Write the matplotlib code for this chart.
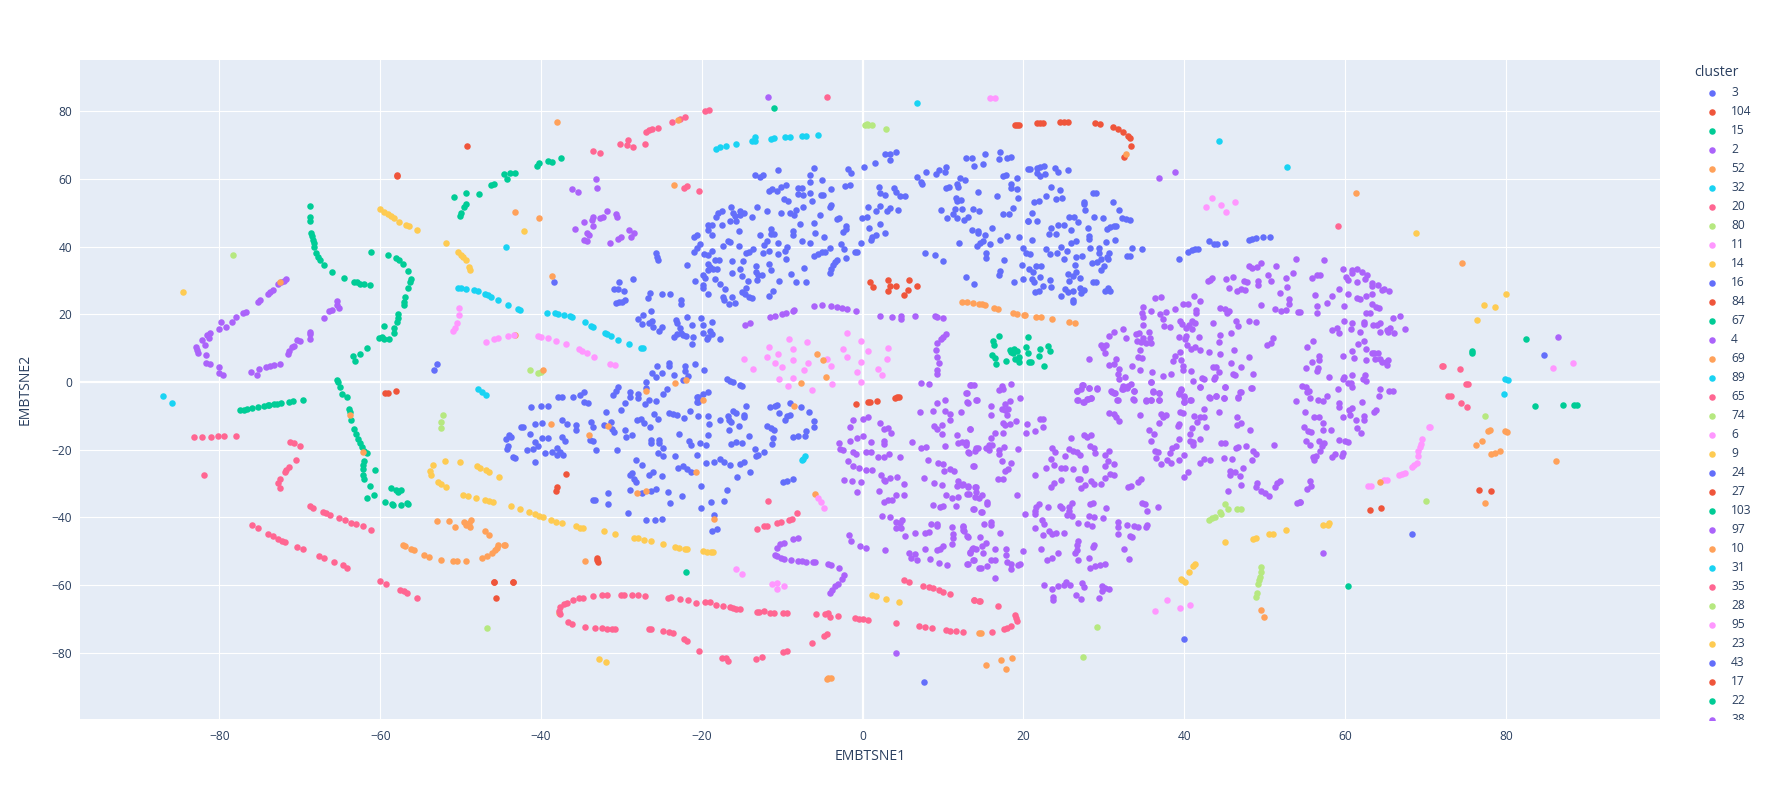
import matplotlib
matplotlib.use("Agg")
import matplotlib.pyplot as plt

plt.rcParams['font.family'] = ['Open Sans', 'DejaVu Sans']

# cluster points as (EMBTSNE1, EMBTSNE2)
c3 = [(-10.5,62.5),(-13.4,61.2),(-12.8,60.5),(-12.4,61.3),(-6.1,63.2),(-6.5,61.2),(-6.6,59.2),(-5.1,59.6),(-3.9,57.1),(-11.7,56.5),(-11.3,57.1),(-10.6,56.3),(-10.1,57.7),(-9.6,58.2),(-8,57.2),(-7.5,57.2),(-8,55.6),(-7.4,55.2),(-6.5,55.7),(-5.2,55.3),(-4.9,55.3),(-9.8,54),(-9.3,53.4),(-6.3,53.4),(-4.1,51.8),(-3.9,52.2),(-16.4,51.8),(-13.1,51.7),(-11.9,50.5),(-10.2,50),(-9.1,50),(-8.5,49.3),(-8.3,50.8),(-7.4,51.8),(-5.3,49.4),(-17.5,50.6),(-18,49.8),(-18.2,48.9),(-16.1,50),(-15.3,50.5),(-14.8,49.9),(-15.9,49),(-15.3,49.4),(-13.8,48.9),(-16.5,47.5),(-15.7,47.6),(-17.5,46.4),(-19.3,46.3),(-18.7,46.5),(-19.2,44.9),(-18.8,43.4),(-15.4,44.6),(-20.6,43.5),(-21,42.7),(-12.8,43.3),(-11.4,45.3),(-11.4,43.6),(-11,43.6),(-7.8,46.8),(-6.1,47.1),(-3.2,48.1),(-3,48.4),(-2.1,46.1),(-2.1,45.2),(-2.4,44.4),(-8.7,44.7),(-8.7,43.3),(-5.9,44.1),(-4.8,42.9),(-7.5,41.7),(-6.6,41.2),(-2.7,40.9),(-2.3,39.4),(-.2,41),(-1,38.3),(-.7,38.4),(-2.1,36.6),(-4.1,39.5),(-4.7,38.5),(-5.1,38.3),(-5.5,37.8),(-6,37.2),(-3.2,36),(-3.4,35.6),(-3.7,34.6),(-3.9,33.3),(-4.1,32.1),(-7.3,33.8),(-16.8,41.8),(-16.5,41.3),(-11.9,41.8),(-12.3,40.5),(-10.5,41),(-17.4,40.2),(-15.4,40.2),(-20.2,40.7),(-20.6,39.5),(-21,38.5),(-13.6,39.3),(-14.1,38.5),(-14.5,38),(-12.4,38),(-11.6,38.7),(-9.4,40),(-9.7,38.8),(-10.5,37.7),(-9.5,36.2),(-19.7,37.8),(-19.3,37.5),(-18.7,38.6),(-18.4,36),(-17.9,36.1),(-16.3,35.7),(-14.9,35.7),(-11.6,34.9),(-13.3,34.4),(-21.8,34.5),(-19.2,35),(-19,34),(-18.6,33.5),(-18.1,33.4),(-19.2,33.1),(-15.3,33.5),(-11.4,33.1),(-16.3,32.3),(-13.3,32.4),(-13,31.6),(-12.5,31.5),(-15,31.3),(-8.9,31.9),(-19.9,31.6),(-19.6,30.6),(-18.4,30.4),(-20.8,29.9),(-14.3,29.9),(-13.2,30.2),(-10.4,29.9),(-8.3,29.4),(-7,29.5),(-17.8,29),(-19.9,28.7),(-19.9,27.7),(-17.1,27.6),(-14.5,27.9),(-19.2,26),(-15,26.6),(-14.6,26),(-14.2,25.2),(-13.8,24.9),(-11.2,26.9),(-11.6,25.5),(-17.4,25.2),(-17.2,24.2),(-16.3,25),(-16.6,23),(-15.9,23.4),
      (4.1,68),(3.4,67.4),(2.8,67.3),(3.4,65.6),(1.5,64.8),(.2,63.5),(-1.8,62.9),(-1.5,61.7),(-2.2,58),(-1.6,58.2),(2,57.7),(3.9,57.2),(4.2,56.2),(4.7,55.1),(5.3,55.1),(2.2,55.8),(2.8,55.2),(.7,51.8),(2.2,52),(1.7,50.4),(3.4,51.4),(3,50.5),(4.4,50.8),(-.1,48.5),(.5,48.9),(.8,45.5),(2.1,46.8),(2.8,44),(1.7,43.4),(1.1,42.8),(1,42),(6.7,60.6),(7.9,62.1),(9.1,61.4),(9.5,62.7),(10.4,63.4),(10.3,62.1),(7.3,59.2),(7.4,58.5),(12.9,66.1),(13.6,66.1),(13.8,63.9),(15,64.5),(15.2,67.4),(17.1,67.9),(17,65.9),(17.9,66.1),(18.5,66.5),(20.6,63),(12.1,60.2),(12.7,59.8),(11.7,58.4),(11.9,57.7),(10.4,57.2),(10.7,57.6),(14.4,56),(16.7,55.1),(17.4,60.9),(17.8,61.2),(19.2,60.2),(18.4,58.5),(18.5,57.2),(19.2,57),(19.3,54.5),(11.6,54.4),(12.2,53.8),(11.7,53.6),(9.8,50.8),(11.5,51),(12.3,51),(13.7,51.1),(14.5,50.4),(11.2,49.5),(10.5,48.6),(11.7,48.5),(12.6,47.8),(13.1,48.9),(17.5,49.5),(18.2,49.6),(18.7,51.4),(20.5,47.5),(16.1,45.6),(13.6,44.8),(14.4,44.7),(14.4,44),(15.2,43.4),(15,41.8),(14.6,41.2),(15.8,40.8),(14.2,40.3),(12,41),(18,43),(17.1,41.9),(19.4,42.7),(19.9,39.7),(20.3,38.1),(7.7,38.2),(9,37.6),(10,35.8),(15.4,38),(15.3,36.7),(17.6,35.9),(19.8,34.7),(17.1,32.9),(16.9,31.5),(12.9,31),(13.8,29),(18.8,29.4),(20,30.5),
      (20.8,63),(21.7,63.2),(22.1,63.6),(22.5,63.8),(21.7,61.7),(22,61),(22.7,61.5),(23.9,63.3),(24.3,62),(25.5,62.5),(23.4,57.7),(24.6,56.8),(22.8,55),(24,54.2),(24.8,54.4),(21.3,53.2),(21.9,53.5),(28.7,55.9),(29,55.9),(27.5,53.1),(27.5,52.5),(27.6,50.7),(31.1,53.3),(31.9,50.9),(32.3,48.6),(32.8,48.2),(33.3,47.8),(21,50),(20.6,47.6),(21.7,47.6),(25.7,48.9),(26.3,48.9),(26.8,47.2),(28.8,48.7),(29.9,48.5),(24.3,46.4),(25,46.5),(23.4,45.4),(23.2,43.7),(24.1,43.7),(25.9,45),(28,45.4),(28.2,43),(28.1,42.2),(30.4,45.1),(30.8,45.7),(31.2,46.2),(31.5,46.2),(21,41.9),(30.3,41.3),(31.4,42),(25.9,41.2),(26.5,41.6),(24.7,40),(22.8,39.2),(23.3,37.8),(24.2,38.2),(25.4,38.6),(20.8,37.7),(28.3,39.5),(29.4,39.5),(29.4,38.1),(30.6,38.2),(30.4,37),(30.5,36.4),(33.5,39.5),(34.7,39.2),(32.9,37.3),(33.2,37.3),(27.3,37.3),(26.5,36.8),(25,36.2),(28.5,35.3),(29.2,35.5),(29.7,36.2),(26.4,34.6),(30,34.2),(29.7,33),(20.7,33.4),(21.5,34.3),(22.2,34.2),(21.2,32.4),(25.5,31.8),(26.2,31.4),(26.5,32.6),(21.1,30.5),(22.1,31),(27,30.8),(23.3,30),(25.7,29.7),(28.7,29.6),(29,29.6),(21.3,29.4),(23.4,28),(22.4,28.3),(21.4,26.7),(21.9,27),(25.2,27.5),(25.5,26.5),(26.1,26.8),(27,27.7),(27.5,27.1),(27.2,26.4),(30.1,27),(30.5,27.7),(30.8,26.9),(24.7,25.3),(26.1,24.2),(26.2,23.5)]
c104 = [(18.9,76),(19.2,76),(19.5,76),(21.7,76.4),(22.1,76.5),(22.4,76.5),(24.6,76.8),(25,76.8),(25.5,76.8),(28.9,76.5),(29.5,76.3),(31.1,75.4),(31.7,74.8),(32.4,73.9),(33,72.8),(33.3,72),(33.4,69.7),(32.5,66.4)]
c15 = [(-68.8,52),(-68.8,48.9),(-68.8,47.7),(-68.6,44),(-68.5,43),(-68.4,42),(-68.3,41),(-68.2,40),(-68,38.2),(-67.8,37),(-67.5,35.9),(-67,34.5),(-66,32.5),(-64.5,30.6),(-63.3,29.6),(-62.9,29.4),(-62.5,29),(-62,28.9),(-61.3,28.6),(-61.1,38.3),(-59,37.4),(-58.1,36.6),(-57.7,35.9),(-57.2,35),(-56.5,32.7),(-56.2,30.5),(-56.3,29.4),(-56.5,27.7),(-56.9,25),(-57,23.7),(-57,22.8),(-57.8,20.1),(-57.8,18.8),(-57.9,17.6),(-58.3,15.9),(-58.3,14.6),(-58.9,12.7),(-59.5,16.4),(-59.8,13.4),(-60.1,12.9),(-59.6,12.8),(-61.6,9.9),(-62.5,8.4),(-63.4,7.8),(-63.2,6.3),(-50.8,54.7),(-49.4,55.8),(-47.7,55.6),(-50.1,49),(-49.9,50),(-49.6,51.8),(-49.3,52.7),(-46.2,58.2),(-45.8,58.6),(-44.6,61.5),(-44.3,60),(-43.9,61.8),(-43.3,61.9),(-40.5,63.8),(-40.3,64.7),(-39.2,65.4),(-38.6,65.1),(-37.5,66.1)]
c2 = [(57.4,36.1),(59.8,33.5),(60.8,33.1),(60.9,32.3),(61.5,33.3),(62.1,32.5),(62.7,31.7),(60.1,31.1),(60.4,30),(61.5,29.5),(62.5,30.3),(63.3,29.2),(63.4,28.4),(64.1,28.7),(64.8,27.6),(64.6,27.2),(65.5,26.9),(55.9,30.8),(56.5,31.6),(56.9,31.5),(59.2,27.4),(58.4,25.5),(60.4,25.9),(61.5,24.9),(61.8,24.5),(62.6,25.5),(63.3,26),(56.2,25.6),(56.5,22.5),(57.8,23.3),(59.9,22.4),(63.4,23),(63.8,22.3),(64.2,22),(62.6,20.4),(63.1,20.5),(54.4,20.8),(56.5,20.3),(66,19),(66.8,19.5),(59.9,18),(60.8,17.4),(62.4,17.8),(62.3,17.2),(63.5,16.8),(64,16.9),(64.3,17.4),(67.4,15.8),(58.4,15.3),(59,15.9),(59.2,14.6),(60.7,15.8),(61.8,14.9),(64.3,14.9),(65.2,15.5),(65.6,16),(65.3,14.9),(66.1,14.6),(56,12.2),(55.3,10.3),(61.6,11.2),(62.4,12.1),(60.8,9.3),(62.6,9.7),(63.3,8.6),(63.6,8.6),(64.1,8.7),(56.8,7.7),(56.8,6.5),(59.8,7.7),(61.1,7.1),(62.6,6.5),(63.7,6.7),(64.3,6.7),(64.6,6),(65.3,6.6),(65.1,6),(65.2,4.9),(55.9,5.8),(55.2,4.2),(56.6,4.2),(56.5,3.2),(58,1.6),(59.9,1.6),(59.8,.9),(60.9,2),(62.5,2.2),(62.2,1),(62.6,.2),(60.4,-.2),(60.7,-.4),(60.9,-1.6),(59.1,-2.1),(64.3,-2.1),(65.5,-2.7),(65.9,-2.6),(64.2,-4.1),(54.7,-1.1),(55.1,-1.4),(55.3,-2.9),(55.5,-2.7),(55.6,-4.7),(56.6,-5.3),(57.3,-5.5),(57.8,-4.1),(59.3,-6.1),(59.2,-7.3),(62.1,-5.8),(60.9,-7.6),(60.5,-8.3),(63.8,-8.2),(63.6,-9),(55,-8.8),(56.1,-10.3),(56.8,-10.3),(59.8,-10.4),(60.6,-9.8),(62.3,-10),(61.3,-11.1),(62.4,-11.2),(57.3,-12.1),(54.9,-13.2),(55.4,-14.4),(55.7,-14.9),(57.3,-14.2),(58.2,-14.2),(61.5,-13.7),(62,-15),(55.1,-17.4),(55.6,-18.5),(56.8,-17.5),(57.4,-18),(57.1,-18.8),(59.3,-17.2),(60,-17.5),(60.4,-17.8),(56.9,-20.5),(56,-22.1),(56.4,-22),(56.1,-23),(58.4,-22.1),(58.8,-21.4),(59.7,-20.9),(59.6,-21.8),(55.6,-29.2),(55.8,-30.7),(55.3,-31.7),(54.4,-35.4),(57.2,-50.6),
      (39.5,-8.8),(39.8,-9.3),(37.1,-9.6),(37.7,-9.9),(37.4,-10.3),(34.5,-9.8),(30.6,-9.3),(31.2,-9.5),(31.5,-10.3),(31.9,-11.5),(36.9,-12.2),(35.6,-14.2),(36.2,-15.4),(35.8,-17.3),(39.3,-12.3),(39.2,-13),(41,-13.7),(41.6,-11.8),(41.2,-10),(41.9,-10.3),(42.5,-10.3),(42.7,-13.3),(44.3,-9),(42.4,-7.9),(46.6,-10.3),(47,-12),(46.6,-12.7),(48.2,-14.1),(40.7,-15.4),(39.3,-17),(40.7,-17.5),(41.1,-17.8),(41.1,-18.7),(42,-16.8),(39,-18.9),(38.5,-19.6),(38.2,-20.9),(36.4,-20.3),(36.7,-20.6),(36.5,-22.4),(37.1,-24.1),(37.9,-23.2),(38.3,-23.8),(39.3,-23.2),(40,-21.5),(41.9,-23.8),(42.4,-22.9),(43.2,-23.1),(45,-22.6),(45.9,-22.8),(44.6,-17.9),(45.1,-18),(46.4,-19.4),(46.7,-19.1),(47.7,-18.8),(48.5,-20.3),(48.9,-21.2),(48.4,-23.2),(51.1,-18.6),(47.3,-25.4),(45.7,-26.2),(46.3,-26.6),(45.7,-27.6),(46.9,-27.9),(40.5,-26.7),(40,-28.2),(47,-30.4),(45.4,-32.3),(49,-29.9),(48.9,-31.1),(49.6,-32.2),(50.1,-32.9),(50.5,-33.7),(51.3,-30.9),(51.5,-29.8),(51.9,-29.2),(54,-35.8),(54.4,-35.5),
      (36.8,60.4),(38.9,62.1),(48,34.4),(48.4,33.7),(49,34),(49.5,35.2),(51.4,34.4),(53.9,36.4),(42.9,29.9),(43.2,30),(43.5,30.8),(45.2,30.5),(46,30.9),(47.4,29.7),(47.8,29.4),(49.2,29.9),(49.2,28.8),(50.8,29.8),(50.4,31.7),(52.7,30.6),(53.5,32.3),(52.8,28.2),(45.6,27.8),(46.6,26.8),(47.1,27.5),(47.5,27.1),(51.9,26.2),(49.6,22.7),(53,24.5),(53,23),(51.3,21.6),(52,21),(52.6,21.3),(54.2,20.8),(41.2,25.5),(36.4,24.9),(37.1,25.1),(42,23.9),(39.8,23),(40.5,23),(41.5,21.3),(41.4,20.3),(34.9,22.1),(35.8,20.9),(38.8,21.7),(37.7,20.8),(37,20.1),(34.7,20.3),(34.9,19.2),(37.3,18.6),(44.4,22),(45.1,21.6),(45.6,21.1),(45.3,20.3),(34.9,16.7),(37.5,16.5),(38.2,16.2),(39.5,18.1),(39.7,17),(40.2,16),(40.6,16.8),(40.9,18),(41.3,17.5),(41,15.8),(43.6,17.4),(46.4,17.9),(46.7,16.4),(48,18),(48.9,17.7),(45.8,14.4),(44.4,13.9),(41.8,13.4),(40.2,13.7),(39.3,13.3),(40.1,12.6),(35.6,14.7),(34.4,14.4),(34,14.2),(32.8,12.9),(32.4,15.6),(31.2,14.8),(30.6,13.5),(34.9,13),(35.7,12.9),(34.1,12.2),(34.6,11.9),(35.3,11.6),(35.9,11.5),(44.3,11.9),(29.6,11),(30.3,10.8),(29.9,10),(30.1,8.6),(34.5,9.5),(40.3,10.8),(40.8,9.7),(41.3,10.2),(41.9,9.5),(43.1,8.9),(44.5,8.4),(46.2,9.5),(50.3,10.8),(50.8,11.4),(51,13.1),(28.2,6.7),(31.5,6.7),(30.6,4.9),(31.2,5.3),(34.2,7.5),(34.7,7.1),(38.8,7.8),(39.5,8.8),(38.6,6.1),(39.6,6.4),(45.8,5.6),(48,7.5),(47.1,4.5),(31.9,3.7),(33.5,4.8),(34.5,3.4),(36,2.8),(31.7,2.4),(31.9,1),(32.6,1.5),(39.8,4.6),(39.9,3.5),(40.8,3.2),(37.3,1.8),(38.4,2.5),(43.6,4.5),(44,4.3),(44.3,3),(46,2.3),(46.3,2),(48.6,2.4),(43.8,1.6),(43.7,.8),(41.1,.4),(42.2,1.3),(42.4,1),(35.9,0),(33.4,-.5),(32.4,-1.1),(32.9,-1.9),(27.4,-.8),(28.1,-1.7),(29.2,-1.9),(26.6,-2.7),(27.2,-2.1),(30.9,-2.8),(31.2,-3.3),(32.2,-2.1),(33.7,-2.7),(36.1,-2.8),(36.9,-3.3),(39.6,-2),(39.3,-3.3),(40,-4.3),(41.9,-1.4),(45.1,-1.4),(48.3,-1.7),(46.9,-3),(46.7,-4.5),(43.1,-4.5),(44,-4.1),(45,-4.7),(40.8,-5.3),(40,-5.8),(36.8,-5.2),(35.8,-5.2),(35.2,-5.4),(33.6,-5),(31.6,-5.3),(26.7,-5.2),(27.4,-5.8),(27.9,-5),(28.4,-4.6),(53.9,-5.7)]
c52 = [(12.4,23.7),(13,23.6),(13.7,23.4),(14.5,23),(14.8,22.9),(15.2,22.6),(16.3,21.9),(16.8,21.6),(18.7,20.3),(19.2,20.1),(20.1,19.8),(20.2,19.8),(21.5,19.3),(22.2,19.1),(23.6,18.6),(25.6,17.8),(26.4,17.3)]
c32 = [(-18.2,68.9),(-17.7,69.5),(-17,69.7),(-15.7,70.3),(-13.8,71.1),(-13.4,72.3),(-13.4,71.2),(-11.4,71.9),(-11,72),(-9.7,72.3),(-9.1,72.4),(-7.5,72.7),(-7,72.8),(-5.5,73)]
c20 = [(-33.5,68.2),(-32.7,67.6),(-30.2,70.3),(-29.2,71.6),(-29.3,70),(-28.6,69.3),(-27.1,70.2),(-26.9,74),(-26.6,74.4),(-26.2,74.9),(-25.4,75),(-23.7,76.9),(-22.7,77.7),(-22.1,78.2),(-19.6,80.1),(-19.1,80.4),(-22.2,57.2),(-21.9,57.9),(-20.3,56.5),(-4.4,84.3)]
c80 = [(.3,76),(.7,75.8),(1.1,75.8),(.5,76.2),(2.9,74.8),(-78.3,37.6),(-41.4,3.6),(-40.4,2.6),(-40,2.8)]
c11 = [(-2,14.6),(-.2,12.1),(-9.2,12.8),(-6.9,11.7),(-11.7,10.4),(-8.7,9.8),(-2.5,9.6),(.7,9.2),(3.2,10),(-10.5,8.4),(-11.9,7.3),(-14.7,6.7),(-8.7,6.5),(-10.9,5.6),(-6.8,5.7),(-4.4,6.8),(-1.9,7.3),(-.2,5.9),(3,6.7),(-3.9,4.8),(-10,4.3),(-7.3,3.5),(-13.7,3.8),(1.9,3.7),(2.4,2),(-.7,2.8),(-8.7,1.3),(-10.4,.8),(-9.3,-1.2),(-6.3,-2.3),(-3.8,-.7),(-.2,.1),(15.8,83.9),(16.5,84),(43.5,54.3),(42.7,51.7),(44.6,52.2),(46.3,53.1),(45.2,50.1)]
c14 = [(-84.6,26.7),(-60,51.1),(-59.5,50.1),(-59.1,49.6),(-58.7,49),(-58.3,48.4),(-57.7,47.4),(-56.8,46.4),(-56.4,46),(-55.4,44.9),(-51.8,41.2),(-42.1,44.7),(-50.3,38.3),(-50,37.5),(-49.7,36.8),(-49.3,36),(-49,34.1),(-48.8,33.1)]
c16 = [(-30.3,29.6),(-28.6,30.4),(-30.9,27.6),(-30.4,27.4),(-29.7,26.9),(-26.5,26.2),(-26.7,24.8),(-24.9,26),(-24,26.1),(-22.6,24.2),(-22.6,23),(-30.7,23.2),(-30.3,23.5),(-29.9,23.5),(-29.6,24.2),(-26.3,21.1),(-25.7,38),(-25.6,37),(-25.4,35.9),(-27.3,19.8),(-27.9,18.5),(-27.5,17),(-26.6,17.3),(-26.2,17.9),(-26.1,16.2),(-25.3,15.2),(-24.9,16.1),(-23.2,18.3),(-23.1,17.5),(-21.8,19.2),(-20.1,19),(-18.7,17.7),(-21.2,16.8),(-19.8,16.7),(-22.7,16),(-23.1,14.3),(-22.6,14.4),(-23.5,13.2),(-22,13.7),(-22.3,13.8),(-21.1,13.3),(-19.9,14.4),(-19,15.2),(-18.7,14.2),(-19.2,13.4),(-19.4,12.6),(-17.8,12.8),(-21.2,11.3),(-25.6,4.7),(-24.1,5.5),(-24.1,4.7),(-22.1,4.8),(-20.9,5.4),(-19.7,3.6),(-26.2,2.6),(-25.7,1.4),(-24.9,2.6),(-23.5,2),(-22.1,3.1),(-21.7,1.9),(-22.4,.7),(-27,-.1),(-27,-1.9),(-16.9,.8),(-16.5,.3),(-16.1,-.1),(-15.3,-.9),(-15,-1.2),(-30.4,-1.4),(-30.7,-2.6),(-31,-3.8),(-28.9,-3),(-29,-4.3),(-28,-3.5),(-28,-4.8),(-24.4,-2),(-24.8,-3.6),(-26.6,-5.3),(-25.7,-5.7),(-27.1,-6.6),(-29.6,-6.3),(-19.2,-3),(-19.8,-3.6),(-20.6,-4.3),(-20.6,-5.8),(-37.9,-4.3),(-37.4,-4.3),(-36,-4.3),(-35.1,-3.8),(-34.7,-3),(-34.7,-6),(-34.2,-6.2),
       (-41.2,-7.3),(-40,-7),(-39.2,-7.1),(-31.9,-9),(-30.1,-8.2),(-42.5,-13.2),(-42.2,-13.2),(-40.8,-12.5),(-39.9,-12.1),(-37.4,-11.2),(-36.8,-12.5),(-35.7,-12.7),(-35.7,-14.3),(-41.4,-15.4),(-39.9,-16.5),(-39.2,-16.6),(-37.4,-16.3),(-37,-17.3),(-40.7,-17.6),(-40.4,-18.9),(-44,-15.6),(-43.8,-16.3),(-44.4,-16.9),(-44.1,-18.9),(-44.3,-19.7),(-41.7,-20),(-41,-19.8),(-39.5,-20.9),(-38.6,-20.8),(-38,-19.6),(-38,-21.5),(-37.7,-20.6),(-37.3,-21.7),(-43.5,-22.2),(-43.3,-22.4),(-40.7,-23.7),(-33.8,-11.7),(-33.6,-13.2),(-32.2,-12.7),(-31.3,-11.9),(-31.2,-14),(-30.9,-14.9),(-29.6,-14.3),(-29.5,-16.4),(-28.7,-15.8),(-33.9,-17.1),(-33.5,-17.3),(-33.2,-20.2),(-30.5,-20.2),(-28.1,-11.2),(-27.6,-11),(-27.2,-12.2),(-26.5,-13.3),(-25.9,-9.4),(-25.5,-11),(-24.1,-9.2),(-23.6,-9.4),(-23.1,-9.8),(-22.2,-10.5),(-21.5,-8.5),(-20.5,-10.2),(-19.2,-10),(-19.1,-12.4),(-17.7,-11.2),(-16.8,-10),(-16.1,-8.6),(-15.8,-9.1),(-14.7,-9.8),(-14.7,-10.4),(-16.4,-11.7),(-16.6,-11.2),(-15.4,-13),(-16.6,-14.1),(-19.2,-15.8),(-14.2,-15.9),(-22.8,-15.3),(-20.5,-4.3),(-20.5,-5.8),(-14.5,-7),(-11.5,-7.3),(-10.9,-7),(-10.6,-6.8),(-9,-6.3),(-7.7,-7.4),(-6.7,-8.8),(-10.4,-9.3),(-9.1,-9.9),(-9.4,-10.2),(-9.7,-11.2),(-6,-11.5),(-6,-13.2),(-11.9,-13.1),(-11.4,-13.7),(-11,-14.2),(-7,-14.4),(-7.2,-15.9),(-8.7,-16.4),(-8.1,-16.1),(-11.2,-16.7),(-11.3,-18.3),(-16.4,-18.4),(-15.7,-17.8),(-15,-18),(-26.3,-17.1),(-25.3,-17.1),(-26.3,-18.1),(-25.3,-18.1),(-24.8,-19.5),(-24.8,-21.9),(-25.5,-21),(-23.4,-22),(-21.6,-17.5),(-21.4,-18.7),(-20.2,-18.1),(-19.5,-18.7),(-20.6,-21.5),(-13.4,-19.7),(-12.3,-20.7),(-13,-21.5),(-13.3,-21.9),(-19.5,-23.9),(-18.5,-23.6),(-17.8,-22.7),(-17.2,-23.6),(-16.5,-24.4),(-15.3,-24.1),(-14.8,-23.6),(-14,-26.5),(-15.6,-28.2),(-28.2,-23.1),(-27.4,-24.4),(-23,-25.3),(-22.3,-24.8),(-21.9,-25.7),(-21.4,-26.5),(-28.9,-27.4),(-28.7,-26.9),(-28.5,-28.6),(-28.2,-29.7),(-26.6,-27.4),(-26.1,-26.7),(-24.9,-27.8),(-29,-31.8),(-31.7,-32.8),(-33.5,-34.8),(-33.3,-34.8),(-31.7,-36.1),(-29.2,-38.6),(-27.5,-32.9),(-26.3,-32.2),(-25.7,-31.6),(-24.2,-32.5),(-24,-35.8),(-22.5,-33.8),(-20.1,-30.8),(-18.9,-35.6),(-20.1,-37.1),(-17.2,-35.2),(-16.9,-31.9),(-26.9,-40.7),(-25.8,-40.7),(-24.9,-40.5),(-18.5,-39.4),(-18.1,-43.4),(-18.8,-44.1),(-9.9,-29.7),(-9.4,-29.4),(-8.7,-28.8)]
c84 = [(.9,29.5),(1.3,28),(3.2,30.1),(3.4,28.5),(4.1,28.5),(3.1,26.9),(5.7,30.1),(5.6,27.3),(5.1,25.6),(6.8,28.5)]
c67 = [(16.2,12.2),(16.9,13.5),(16.3,10.8),(20.5,13.2),(20.3,10.4),(16.1,7.9),(16.5,7),(16.6,5.4),(17.8,6.1),(18.3,9.5),(18.5,9),(18.8,9.7),(19.2,9.3),(18.7,8.5),(19.5,7.5),(18.9,6.7),(19.5,5.8),(20.6,8.6),(20.7,5.9),(23,10.6),(23.3,9.1),(22,9.7),(21.9,7.6),(20.9,5.9),(22.6,4.6),(75.8,9.2),(75.8,8.7)]
c4 = [(26.6,-2.6),(27.3,-.8),(28.1,-1.7),(29.1,-2),(26.8,-5.4),(27.5,-5.9),(28,-5.1),(28.4,-4.7),(31,-2.9),(31.4,-3.4),(31.7,-5.4),(33.7,-5.2),(32.4,-2),(33,-1.3),(33.7,-2.8),(35.2,-5.6),(35.8,-5.4),(36.8,-5.4),(36.1,-2.9),(36.8,-3.4),(35.9,-.1),(39.3,-3.6),(39.6,-2.3),(40,-4.2),(40,-6),(40.7,-5.4),(41.9,-1.5),(43.2,-4.6),(44,-4.2),(45,-4.8),(45.1,-1.5),(47,-3),(46.7,-4.6),(48.4,-1.8),
      (20.4,-12.3),(22.1,-10.8),(22.4,-10.8),(22.4,-13.3),(21.4,-14.6),(20.3,-15),(23.5,-19.6),(23.9,-20.8),(23.4,-22.7),(25.2,-22),(25.6,-19.8),(26.2,-20.3),(26.6,-20.8),(27,-21.6),(25.9,-16.6),(27.5,-15.8),(27.9,-16.2),(28.4,-15.6),(28.3,-18.9),(28.8,-19.4),(28.9,-21.1),(30.1,-21.6),(30.6,-20.5),(30.5,-23.4),(30.1,-24.9),(31.2,-24.3),(23.8,-24.6),(22.8,-25.3),(24.7,-25.5),(25.2,-25.5),(26.1,-25.6),(27.7,-25.5),(27.6,-25.9),(21.4,-27.5),(24.7,-28.9),(23.8,-29.8),(23.4,-31.1),(26.8,-28.8),(27,-28.7),(28.4,-29.3),(28.8,-30.2),(29.6,-30.2),(30.1,-28.4),(27.7,-30.5),(27.2,-31.4),(30.8,-27.1),(31.3,-27.5),(33,-31.1),(33.4,-30.6),(34.3,-29.5),(34.6,-28.8),
      (21.9,-36),(21.6,-37),(21.4,-38),(21.4,-39),(20.2,-38.9),(23.1,-37),(24.5,-36.6),(24.8,-37.3),(26,-35.8),(25.7,-37),(25.6,-38.2),(25.4,-39.3),(26,-39.5),(28.3,-36),(28.6,-35.9),(30.3,-37.2),(28.2,-39.6),(28.8,-39.9),(29.9,-40.2),(26.8,-41.7),(27.9,-41.9),(28.5,-42.6),(22.3,-40.8),(22.6,-41.9),(21.4,-43.1),(22.4,-45.2),(23.2,-43.9),(23.6,-44.9),(24.1,-44.6),(25.1,-44.6),(31.7,-41.3),(31.8,-42.8),(32.9,-42.3),(33.7,-42.7),(34.3,-42.8),(35.2,-43),(35.4,-42.3),(31.8,-44.9),(33.2,-45.5),(33.5,-45.9),(34.8,-35.9),(35.1,-36),(35.4,-38),(36.7,-36.9),(26.8,-46.9),(26.7,-48.1),(26.6,-49.6),(26.4,-50.6),(28.8,-48.1),(28.6,-48.9),(22.2,-49.3),(24.3,-50.6),(23.6,-51.9),(22.9,-52.5),(26.8,-52.6),(28.1,-52),(32.5,-49.3),(33.1,-52.3),(28.3,-54.9),(28.9,-54.5),(29.5,-54.2),(30.1,-53.7),(22.6,-60.1),(23.5,-61.3),(24.3,-60.4),(25,-60.1),(25.3,-59.1),(25.8,-59.9),(27.3,-59.4),(27.5,-60.5),(29.8,-60.2),(30.2,-60.9),(30.6,-61.2),(29.8,-61.7),(26.5,-62.9),(27.2,-64.1),(23.7,-63.6),(23.7,-64.4),(29.4,-63.9),
      (13.4,-1),(13.8,-.8),(13,-3.4),(17.3,-1.3),(17.5,-2),(18.5,-.7),(17,-2.5),(19.6,-4.6),(13.1,-6.1),(14.2,-5.2),(15.9,-7),(18.3,-5.7),(17.7,-6.4),(17.3,-7.9),(17.7,-8.2),(18.1,-7.9),(16,-9.7),(18,-9.7),(17.5,-12),(17.7,-12.8),(18.3,-12.3),(19.1,-11.4),(13.4,-14),(16.5,-15.2),(16,-16.5),(17.5,-15.2),(12.3,-17.7),(12.8,-17.8),(12.8,-18.5),(13.2,-20.9),(14,-20.3),(14.3,-19.4),(15.4,-19.6),(15.7,-18.7),(16.1,-18.7),(15.7,-20),(16.9,-20.1),(17,-21.2),(17.6,-19.1),(19.3,-19.8),(17.3,-23.4),(18.4,-23.8),(13.8,-24.9),(18.1,-25.8),(17.7,-26.3),(16.8,-28.7),(17.5,-28.6),(12.3,-30.3),(13.1,-30.8),(14,-31.1),(14.1,-32.4),(13,-33.1),(14.9,-33.4),(14.5,-34.4),(14,-33.9),(15.5,-35.4),(15.5,-36),(19.2,-33.3),(13.8,-37.4),(14.7,-38.3),(14.9,-38.4),(15.1,-41.9),(16,-41.3),(16,-42.4),(17.1,-44.7),(12.5,-42.7),(12.6,-43.9),(13.1,-45.7),(14.6,-45.7),(14.9,-48.5),(15.4,-47.7),(13.6,-49.3),(14.1,-49.3),(13.4,-50.6),(15,-50.6),(16.5,-49.4),(17.8,-49.3),(17.8,-51.1),(19.9,-49.9),(13.1,-53.9),(13.8,-52.7),(14.7,-54.9),(15.5,-54.5),(15.9,-52.7),(16.4,-52.6),(17.9,-53.3),(18.5,-53.8),(18.5,-55.3),(19.3,-54.1),(19.6,-53.8),(16.4,-57.9)]
c69 = [(-53,-41.1),(-51.4,-41.1),(-50.7,-42.8),(-49.6,-41.3),(-49.3,-42.2),(-49,-41.7),(-48.7,-40.8),(-48.8,-43),(-47,-43.9),(-46.5,-45.3),(-57.2,-48.2),(-56.9,-48.4),(-56.2,-49.3),(-55.8,-49.8),(-54.6,-51),(-54,-51.6),(-52.4,-52.5),(-50.9,-52.9),(-50.4,-52.9),(-49.4,-52.8),(-47.3,-52),(-46.7,-51.4),(-46.1,-50.5),(-45.7,-49.6),(-45.5,-49.1),(-45.3,-48.2),(-44.5,-48.2)]
c89 = [(-44.4,39.9),(-50.3,27.8),(-50,27.8),(-49.3,27.6),(-48.4,27.1),(-47.9,26.8),(-47,26),(-46.6,25.6),(-46.2,25.2),(-45.4,24.2),(-44.1,22.7),(-42.9,21.6),(-42.6,21.4),(-39.3,20.5),(-38.3,20.3),(-37.9,20.1),(-37.1,19.8),(-36.4,19.4),(-36.1,19.2),(-34.6,17.8),(-33.8,16.6),(-33.5,16.3),(-32.1,14.6),(-31.8,14.1),(-31.3,13.6),(-30.4,12.5),(-29.1,11.2),(-27.6,10.1),(-27.3,10)]
c65 = [(-83.2,-16.2),(-82.2,-16.2),(-81,-16.2),(-80.2,-16.1),(-79.5,-16.1),(-78,-16),(-81.9,-27.5),(-71.2,-17.6),(-70.7,-18),(-70,-18.8),(-70.5,-23),(-71.3,-25),(-71.7,-26),(-71.9,-26.7),(-72.5,-28.8),(-72.7,-30),(-72.5,-31.4),(-68.8,-36.8),(-68.4,-37.2),(-67.1,-38.3),(-66.7,-38.8),(-66.3,-39.2),(-65.1,-40.3),(-64.4,-40.9),(-63.6,-41.6),(-63,-42),(-62.2,-42.7),(-61.2,-43.6),(-75.9,-42.2),(-75.2,-43.3),(-74,-44.8),(-73.3,-45.6),(-72.7,-46.3),(-72.2,-46.9),(-71.8,-47.3),(-70.3,-48.9),(-69.6,-49.5),(-67.6,-51.5),(-67,-52.1),(-65.7,-53.2),(-64.7,-54.2),(-64.1,-54.9),(-60,-58.9),(-59.3,-59.6),(-57.5,-61.4),(-57.1,-61.9),(-56.7,-62.4),(-55.4,-63.8)]
c74 = [(-52.2,-9.7),(-52.4,-11.7),(-52.5,-13.5),(-46.7,-72.8),(77.4,-10.2),(70.1,-35.3),(29.2,-72.5),(27.4,-81.2)]
c6 = [(70.4,-13.4),(70.6,-13.2),(69.6,-16.9),(69.4,-18.2),(69.3,-19.3),(69.1,-20.5),(69.1,-22),(68.9,-23.8),(68.6,-24.5),(68.3,-25.2),(67.4,-26.9),(67.1,-27.2),(66.7,-27.6),(65.2,-28.9),(64.9,-29.1),(63.2,-30.6),(62.9,-30.7),(85.8,4.2),(88.3,5.5)]
c9 = [(-53.4,-24.6),(-51.9,-23.5),(-50.1,-23.6),(-48,-24.9),(-47.6,-25.3),(-46.9,-26),(-46.5,-26.5),(-45.2,-28.1),(-53.8,-26.3),(-53.7,-27.4),(-52.8,-29.7),(-52.5,-30.1),(-51.8,-31.1),(-49.7,-33.3),(-49.1,-33.8),(-48.1,-34.3),(-47,-35),(-46.5,-35.1),(-46,-35.5),(-43.7,-36.6),(-42.6,-37.5),(-41.5,-38.3),(-40.7,-39.1),(-40.2,-39.5),(-39.7,-40),(-38.8,-40.7),(-38.1,-41.3),(-37.4,-41.8),(-35.7,-42.7),(-35.1,-43.1),(-34.8,-43.2),(-32.2,-44.1),(-30.8,-44.8),(-28.4,-46),(-27.9,-46.2),(-27.2,-46.6),(-26.3,-47.1),(-24.8,-47.9),(-23.3,-48.7),(-22.8,-49),(-22.1,-49.4),(-21.8,-49.4),(-19.9,-50),(-19.4,-50.1),(-18.9,-50.2),(-18.6,-50.3)]
c24 = [(39.3,36.2),(40.5,38.5),(40.9,38.9),(41.3,39.2),(41.7,39.4),(43.1,41.7),(43.7,40.9),(44.1,40.9),(45.1,41.2),(48,42.1),(48.4,42.2),(48.9,42.5),(49.8,42.7),(50.6,42.7),(-53,5.2),(-53.3,3.5),(-38.4,29.6)]
c27 = [(-57.9,61),(-49.2,69.7),(-59.4,-3.4),(-59.1,-3.3),(-58.1,-2.8),(-45.8,-59.2),(-43.5,-59),(-45.6,-63.8),(-38,-31.1),(-38.1,-32.2),(-36.9,-27.1),(-43.5,-59),(-33,-52.5),(-32.9,-53.1),(-33,-52),(63.1,-37.7),(64.5,-37.1),(76.6,-31.8),(78.1,-32.2),(-.8,-6.4),(.6,-5.9),(.9,-5.8),(1.8,-5.5),(4,-4.6),(4.5,-4.3),(4.3,-4.5)]
c103 = [(-65.2,0),(-65,-1.6),(-64.8,-3.6),(-64.2,-4.4),(-63.9,-7.9),(-63.8,-8.8),(-63.7,-11.3),(-63.3,-14),(-63,-15.4),(-62.8,-16.8),(-62.5,-18),(-62.3,-19.2),(-62,-20.3),(-61.6,-21.1),(-62,-23.4),(-62.1,-24.5),(-62.2,-25.6),(-62.1,-27.6),(-62,-28.6),(-60.6,-25.9),(-61.3,-30.8),(-60.8,-33.4),(-61.7,-34.3),(-58.7,-31.3),(-58.1,-32),(-57.8,-32.4),(-57.4,-31.9),(-59.4,-35.4),(-58.6,-36),(-58.4,-36.4),(-57.4,-36.4),(-56.7,-35.8),(-56.5,-36),(-65.4,.6)]
c97 = [(-71.7,30.4),(-72,29.9),(-72.3,29.5),(-72.7,28.9),(-73.4,27.2),(-73.7,26.6),(-74,25.9),(-74.9,24.2),(-75.2,23.7),(-76.7,20.8),(-77.1,20.3),(-77.9,19.3),(-78.5,17.7),(-79.8,17.6),(-79.2,16.1),(-80,15.6),(-81.2,14.6),(-81.6,13.9),(-81.3,13),(-82.2,12.4),(-81.8,10.8),(-82.9,10.4),(-82.8,9.5),(-82.7,8.5),(-81.7,8),(-81.7,5.7),(-81.2,5.2),(-80,4.5),(-80.1,2.6),(-79.6,2.1),
       (-76.1,3),(-75.3,2.1),(-75.1,3.8),(-74.2,4.3),(-73.7,4.8),(-73.2,5.1),(-72.5,5.4),(-71.5,8.2),(-71.3,9.2),(-71,10.2),(-70.7,10.7),(-70.3,12.4),(-70,12),(-68.8,12.6),(-68.8,14.2),(-68.7,14.9),(-67,18.8),(-65.1,21.8),(-65.4,22.8),(-65.4,24),(-66.4,21.1),(-66,21.3),
       (-33.2,60.1),(-33,57.4),(-36.1,56.9),(-35.4,56.2),(-31.8,50.6),(-30.7,49.6),(-30.5,48.7),(-34.7,47.4),(-33.6,48.7),(-33.7,47.9),(-32.7,48.5),(-32.3,48.9),(-33.6,46.1),(-35.8,45.2),(-34.3,44.1),(-34.1,43.4),(-34.7,42),(-34.3,41.7),(-31.4,41.1),(-30.4,42.2),(-30,42.8),(-29.1,44.9),(-28.5,43.9),(-28.8,42.8),
       (-14.6,16.9),(-14,17.3),(-11.5,19.1),(-10.9,19.6),(-10,20.2),(-9.5,20.5),(-8.7,21.1),(-8.5,21.2),(-6.1,22.5),(-5.1,22.7),(-3.9,22.5),(-3.2,22.3),(-2.6,22),(-1.9,21.7),(-.8,21.1),(2.2,19.5),(3.7,19.2),(4.8,19.5),(4.8,18.5),(6.5,19.5),(9,19.4),(9.3,19.3),(10,18.9),(10.4,14.2),(10,13.4),(9.7,12.6),(9.3,11.4),(9.1,9.5),(9.3,7.5),(9.5,5.5),(9.2,3.4),(9.3,2.4)]
c10 = [(-38,76.7),(-43.2,50.1),(-40.3,48.4),(-72.5,29.4),(-38.7,31.2),(-39.8,3.5),(-43.2,13.8),(-23.5,58.3),(-23,77.5),(-26.9,-2.7),(-23.4,-.2),(-22,.6),(-19.8,-5.3),(-8.6,-7.1),(-5.7,8.4),(-4.9,6.5),(-4.6,1.4),(-7.7,-.4),(-38.8,-12.3),(-31.7,-13),(-34,-15.7),(-20.7,-26.7),(-26.9,-32.2),(-28.1,-32.9),(-18.5,-40.5),(-5.9,-33.2),(-34.5,-53),(-44.6,-48.3),(-37.8,-68.2),(-4.3,-87.5),(-4,-87.4),(-4.5,-87.7),(14.5,-74.1),(-63.8,-9.8),(-62.1,-20.8),(49.5,-67.3),(49.9,-69.4),(15.3,-83.5),(17.2,-82.2),(18.6,-81.7),(17.8,-84.7),(14.7,-74.2),(61.3,55.7),(74.5,35.1),(77.8,-14.6),(78,-14.2),(79.9,-14.4),(80.2,-14.8),(77,-17.5),(76.3,-18.5),(78.1,-21.3),(78.6,-20.9),(79.3,-20.3),(86.2,-23.5),(77.4,-35.7),(64.3,-29.6),(32.8,67.4)]
c31 = [(6.8,82.3),(44.3,71.2),(52.8,63.4),(-87,-4),(-85.9,-6.2),(-47.9,-2.2),(-47.3,-3),(-46.8,-3.8),(-7.6,-23.2),(-7.4,-22.8),(-7.2,-22),(79.9,1),(80.3,.7),(79.8,-3.5)]
c35 = [(-37.8,-67.7),(-37.7,-68.7),(-37.6,-66.6),(-37.2,-65.6),(-36.8,-65.2),(-36,-64.5),(-35.3,-63.9),(-34.8,-63.7),(-33.6,-63.3),(-32.4,-63.1),(-31.8,-63),(-30,-63),(-29.7,-63),(-28.7,-63),(-27.9,-63.1),(-27.1,-63.2),(-24.2,-63.7),(-23.8,-63.6),(-22.7,-64),(-21.7,-64.3),(-20.7,-65.2),(-19.6,-64.9),(-19,-65.1),(-18.3,-65.8),(-17.4,-66.1),(-16.5,-66.6),(-16.1,-66.8),(-15.7,-67),(-15.2,-67.2),(-13.2,-68),(-12.9,-68),(-12.3,-67.8),(-11.5,-68.3),(-11,-68.3),(-9.9,-68.3),(-9.4,-68.3),(-5.8,-68.7),(-4.7,-68.7),(-4.3,-68.4),(-4.1,-69.5),(-3.1,-69.3),(-.9,-69.7),(-.4,-69.9),(.1,-70),(.6,-70.3),(4.1,-71.3),(7,-72.1),(7.7,-72.3),(8.6,-72.6),(10.4,-73.3),(10.9,-73.5),(11.6,-73.6),(12.5,-73.9),(-36.6,-71),(-36.1,-71.5),(-34.6,-72.4),(-33.3,-72.7),(-32.4,-72.8),(-31.8,-72.9),(-31.2,-72.9),(-30.8,-72.9),(-26.6,-72.9),(-26.3,-72.9),(-24.8,-73.6),(-24.1,-73.8),(-23.6,-74.2),(-22.2,-75.9),(-21.8,-76.6),(-20.3,-79.6),(-17.5,-81.7),(-17,-81.7),(-16.8,-82.4),(-13.3,-81.8),(-12.5,-81.4),(-9.9,-79.8),(-9.4,-79.5),(-6.3,-77),(-4.8,-75.1),(-4.5,-74.6),(-13.1,-43.4),(-12.3,-42.7),(-11.9,-42.5),(-10.7,-41.7),(-10.1,-41.5),(-9.2,-40.9),(-8.8,-40.6),(-8.2,-38.7),(-11.8,-35.1),(5.1,-58.4),(5.8,-59),(7.5,-60.2),(8.2,-60.6),(8.7,-61),(9.5,-61.6),(10,-62),(10.9,-62.7),(13.8,-64.4),(14.6,-64.6),(13.9,-64.3),(14.5,-64.7),(16.8,-66.1),(19,-69),(19.1,-69.8),(19.2,-70.7),(18.5,-72.1),(17.9,-72.8),(17.6,-73.1),(16.1,-73.9),(59.1,46),(72,4.7),(72.2,4.6),(74.3,3.9),(75.1,-.6),(75.3,-.6),(72.8,-4.2),(73.2,-4),(74.4,-6.1),(75.2,-7.3)]
c28 = [(43.1,-40.8),(43.5,-40.3),(43.8,-39.8),(44.5,-38.3),(44.6,-39),(45.1,-36.2),(45.5,-37.6),(46.6,-37.4),(47.1,-37.5),(49.6,-54.8),(49.5,-56.2),(49.4,-57.5),(49.3,-58.5),(49.2,-59.6),(49,-62.4),(48.9,-63.4)]
c95 = [(-50.2,22),(-50.2,19.7),(-50.5,17.3),(-50.7,15.9),(-50.9,15),(-46.8,11.9),(-45.9,12.6),(-45.4,13),(-44.1,13.6),(-43.4,13.8),(-40.4,13.5),(-40,13.4),(-39.2,12.9),(-38.1,12.1),(-36.9,11.2),(-35.3,9.7),(-34.9,9.2),(-34.3,8.5),(-33.4,7.5),(-31.4,5.4),(-30.8,5),(-15.7,-55.3),(-15,-56.7),(-11.3,-59.7),(-10.6,-59.4),(-10.7,-61.1),(-9.8,-60.2),(-5.5,-34.4),(-5.2,-35.5),(-4.8,-37.3),(37.8,-64.5),(36.4,-67.8),(39.5,-66.8),(40.7,-65.9)]
c23 = [(-32.8,-81.9),(-31.9,-82.7),(1.2,-63.1),(1.7,-63.3),(2.9,-64),(4.5,-65),(39.6,-58.3),(39.7,-58.6),(40.1,-59.1),(40.6,-56.1),(41.1,-54.3),(41.3,-53.7),(45.1,-47.3),(48.6,-46.4),(48.9,-46),(50.5,-45),(51,-44.8),(52.6,-43.7),(57.3,-42.3),(57.9,-42.3),(58,-41.7),(68.8,44),(80,26.1),(77.3,22.8),(78.7,22.3),(76.4,18.3)]
c43 = [(7.6,-88.8),(40,-76),(68.3,-44.9),(84.8,8)]
c17 = [(-57.9,61.1),(-45.8,-59.1)]
c22 = [(-77.4,-8.4),(-77,-8.2),(-75.9,-7.7),(-75.2,-7.3),(-74.5,-7),(-73.8,-6.7),(-73.2,-6.5),(-72.4,-6.2),(-71.4,-5.8),(-70.8,-5.6),(-69.6,-5.2),(-74,-6.9),(-76.6,-8),(-72.9,-6.4),(-11,81.1),(-22,-56.3),(60.4,-60.3),(82.5,12.8),(83.6,-7.1),(87.1,-6.8),(88.5,-6.7),(88.8,-6.7)]
c38 = [(-10.3,-47.8),(-9.8,-47.6),(-10.6,-49.1),(-10.9,-51),(-10.6,-51.5),(-10.1,-52.1),(-9.8,-52.3),(-8.9,-52.7),(-8,-53),(-7.6,-53),(-7.1,-53.1),(-6.2,-53.3),(-5.9,-53.3),(-4.3,-53.8),(-3.9,-54.1),(-3,-54.9),(-2.3,-56.9),(-2.6,-58.2),(-3.1,-59.7),(-3.4,-60.4),(-3.8,-61.4),(-4.1,-62.5),(-8.7,-46.5),(-8,-46.1),(4.2,-80.1),(-11.8,84.3),(86.5,13.2),
       (7.2,-.4),(8.3,-.6),(13.5,-.9),(12.9,-3.3),(9.3,-6.1),(10.2,-5.3),(13,-5.9),(14.1,-5.3),(7.1,-8.9),(8.7,-8.5),(10.3,-8.6),(10.9,-9.4),(12.2,-8.8),(10.9,-11.3),(-1.2,-11.3),(0,-10.9),(.6,-10.4),(2.2,-12.2),(-1.6,-13.2),(2.6,-14),(3.1,-13.5),(3.5,-15.1),(8.9,-13),(9.2,-14),(9.9,-12.8),(9.9,-15.4),(13.3,-14),(11.7,-15.7),(.1,-15.9),(-.7,-16.6),(-1.6,-17.3),(1,-17.6),(2.6,-17.3),(2.7,-18.4),(6.1,-17.6),(-3,-18.1),(-2.8,-19.8),(-2.4,-20),(-1.2,-20.6),(-.8,-21.3),(.4,-20.7),(1,-20.8),(1.9,-22.3),(2.6,-22.3),(3.3,-21.3),(4.7,-22.1),(7.2,-19.4),(7.9,-19.2),(10.2,-19),(11.9,-17.9),(12.9,-17.9),(14.1,-19.4),(13.1,-20.7),(-1.8,-23.5),(-1.2,-24.8),(-.5,-25.4),(.4,-25.9),(1.2,-26),(8.1,-23),(9.4,-24),(10,-24.3),(10.9,-25.7),(10.1,-26.4),(11.4,-26.4),(13.7,-24.8),(2.3,-27.6),(2.6,-29.1),(3.4,-28.3),(4.3,-28.2),(5.1,-30.2),(2.8,-29.4),(-2.3,-28.9),(-1.3,-29.2),(-.2,-29.6),(-.7,-32.5),(2,-32.2),(7.6,-28.3),(8.9,-29.9),(9.9,-30.3),(11.8,-29.3),(11.7,-30.6),(12.5,-30.1),(13.1,-30.9),(14.1,-30.9),(13.2,-33),(5.1,-33.3),(4.1,-33.5),(3.6,-34.9),(3.1,-34.9),(2.6,-35.6),(10.4,-33.4),(11.1,-34.2),(11.8,-34.1),(8.7,-36.4),(9.6,-37),(10,-36.8),(11.6,-36.6),(13.7,-37.4),(2.4,-39.7),(3.4,-40),(4.2,-41.4),(4.9,-40.7),(4.6,-41.7),(4.2,-43.2),(4.8,-43.2),(8.5,-42.1),(9.3,-42),(9.3,-42.7),(11.1,-42.8),(12.5,-42.9),(12.5,-43.8),(5.3,-45.6),(6.5,-44.7),(7.7,-44.7),(8.3,-44.3),(11.2,-44.9),(11.2,-46.2),(13,-45.6),(-1.7,-45.3),(-1.5,-47),(-.3,-48.4),(.4,-49.1),(2.8,-49.7),(7.8,-49.5),(9.2,-49.8),(9.6,-49.4),(10,-48.6),(11.1,-47.9),(13.7,-49.1),(13.4,-50.3),(5.8,-50.5),(6.5,-50.8),(6,-52),(6.8,-52.5),(8.4,-52.2),(9.5,-53.5),(10.5,-54),(13,-53.8),(13.7,-52.6),(14.5,-55)]

legend_order = ["3", "104", "15", "2", "52", "32", "20", "80", "11", "14", "16", "84", "67", "4", "69", "89", "65",
                "74", "6", "9", "24", "27", "103", "97", "10", "31", "35", "28", "95", "23", "43", "17", "22", "38"]
points = [c3, c104, c15, c2, c52, c32, c20, c80, c11, c14, c16, c84, c67, c4, c69, c89, c65,
          c74, c6, c9, c24, c27, c103, c97, c10, c31, c35, c28, c95, c23, c43, c17, c22, c38]
palette = ['#636EFA', '#EF553B', '#00CC96', '#AB63FA', '#FFA15A', '#19D3F3', '#FF6692', '#B6E880', '#FF97FF', '#FECB52']
ink = '#2a3f5f'

W, H = 1773, 800
fig = plt.figure(figsize=(W / 100, H / 100), dpi=100)
ax = fig.add_axes([80 / W, 1 - 719 / H, 1580 / W, 659 / H])
ax.set_facecolor('#E5ECF6')
for s in ax.spines.values():
    s.set_visible(False)

for i, pts in enumerate(points):
    xs = [p[0] for p in pts]
    ys = [p[1] for p in pts]
    ax.scatter(xs, ys, s=22, color=palette[i % 10], linewidths=0, zorder=3)

ax.set_xlim(-97.35, 99.17)
ax.set_ylim(-99.6, 95.15)
ax.set_xticks(range(-80, 81, 20))
ax.set_yticks(range(-80, 81, 20))
ax.grid(True, color='white', linewidth=0.8, zorder=1)
ax.set_axisbelow(True)
ax.axhline(0, color='white', linewidth=1.6, zorder=2)
ax.axvline(0, color='white', linewidth=1.6, zorder=2)
ax.tick_params(length=0, labelsize=8.64, labelcolor=ink)
ax.tick_params(axis='x', pad=8)
ax.tick_params(axis='y', pad=5.5)
ax.set_xlabel('EMBTSNE1', fontsize=10.08, color=ink, labelpad=4)
ax.set_ylabel('EMBTSNE2', fontsize=10.08, color=ink, labelpad=14)

# legend runs off the bottom in the original, so it gets its own clipped axes
lax = fig.add_axes([1670 / W, 1 - 720 / H, 103 / W, 660 / H])
lax.set_xlim(1670, 1773)
lax.set_ylim(720, 60)
lax.axis('off')
lax.text(1694, 73, 'cluster', fontsize=10.08, color=ink, va='center', clip_on=True)
for i, name in enumerate(legend_order):
    y = 92.7 + i * 19
    lax.scatter([1712], [y], s=22, color=palette[i % 10], linewidths=0, clip_on=True)
    lax.text(1731, y, name, fontsize=8.64, color=ink, va='center', clip_on=True)

fig.savefig('out.png', dpi=100)
